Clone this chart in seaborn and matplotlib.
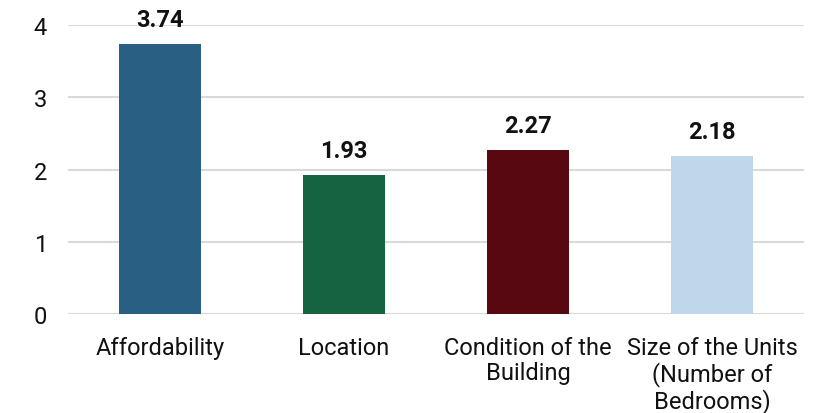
import matplotlib
matplotlib.use("Agg")
import matplotlib.pyplot as plt
import seaborn as sns
import pandas as pd

categories = ["Affordability", "Location", "Condition of the\nBuilding",
              "Size of the Units\n(Number of\nBedrooms)"]
scores = [3.74, 1.93, 2.27, 2.18]
bar_colors = ["#2a5f84", "#156340", "#580810", "#bed7ea"]
y_ticks = [0, 1, 2, 3, 4]

sns.set_theme(style="white")
plt.rcParams["font.family"] = ["Roboto", "DejaVu Sans"]

df = pd.DataFrame({"category": categories, "score": scores})

fig = plt.figure(figsize=(8.21, 4.14), dpi=100)
ax = fig.add_axes([68 / 821, 99 / 414, 736 / 821, 289 / 414])

sns.barplot(data=df, x="category", y="score", hue="category",
            palette=bar_colors, width=0.446, legend=False, ax=ax,
            saturation=1, linewidth=0, zorder=3)

ax.set_ylim(0, 4)
ax.set_xlim(-0.5, 3.5)
ax.set_yticks(y_ticks)
ax.set_yticklabels([str(t) for t in y_ticks])
ax.yaxis.grid(True, color="#d9d9d9", linewidth=1.5, zorder=0)
ax.xaxis.grid(False)
for s in ax.spines.values():
    s.set_visible(False)
ax.set_xlabel("")
ax.set_ylabel("")
ax.tick_params(axis="both", length=0, labelsize=17, colors="#111111")
ax.tick_params(axis="y", pad=15)
ax.tick_params(axis="x", pad=16)
for lbl in ax.get_xticklabels():
    lbl.set_linespacing(1.1)

for i, v in enumerate(scores):
    ax.annotate(f"{v:.2f}", xy=(i, v), xytext=(0, 13), textcoords="offset points",
                ha="center", va="baseline", fontsize=17, fontweight="bold",
                color="#111111", annotation_clip=False)

fig.savefig("out.png", dpi=100)
